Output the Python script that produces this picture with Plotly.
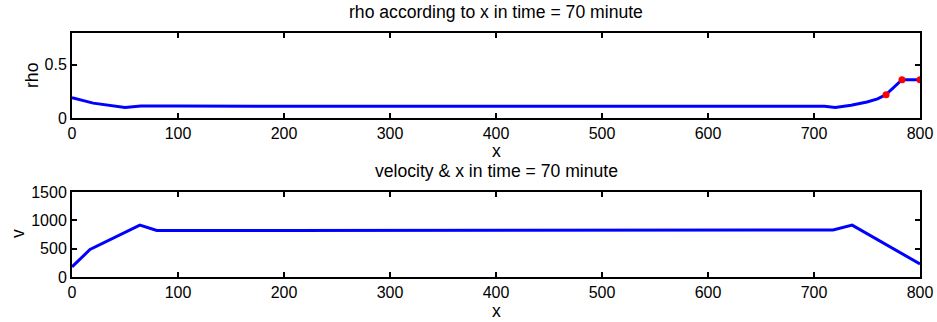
import plotly.graph_objects as go

# rho profile
rho_x = [0, 20, 50, 65, 100, 200, 300, 400, 500, 600, 700, 710, 720, 735, 750, 760, 768, 783, 800]
rho_y = [0.19, 0.14, 0.10, 0.112, 0.112, 0.11, 0.11, 0.11, 0.11, 0.11, 0.11, 0.11, 0.10, 0.12, 0.15, 0.18, 0.22, 0.36, 0.36]
# highlighted points
mark_x = [768, 783, 800]
mark_y = [0.22, 0.36, 0.36]
# velocity profile
v_x = [0, 17, 64, 80, 200, 300, 400, 500, 600, 700, 718, 736, 800]
v_y = [180, 485, 915, 820, 820, 820, 820, 820, 820, 820, 830, 915, 230]

x_ticks = [0, 100, 200, 300, 400, 500, 600, 700, 800]

FONT = "Liberation Sans, Arial, sans-serif"
FS = 16
FT = 17.6

W, H = 937, 322
ML, MR, MT, MB = 72, 17, 33, 45
PW, PH = W - ML - MR, H - MT - MB

def px(xp):
    return (xp - ML) / PW

def py(yp):
    return (H - MB - yp) / PH

fig = go.Figure()
fig.add_trace(go.Scatter(x=rho_x, y=rho_y, mode="lines",
                         line=dict(color="#0000ff", width=3), xaxis="x", yaxis="y", showlegend=False))
fig.add_trace(go.Scatter(x=mark_x, y=mark_y, mode="markers",
                         marker=dict(color="#ff0000", size=7), xaxis="x", yaxis="y", showlegend=False))
fig.add_trace(go.Scatter(x=v_x, y=v_y, mode="lines",
                         line=dict(color="#0000ff", width=3), xaxis="x2", yaxis="y2", showlegend=False))

axis_common = dict(showline=True, linecolor="black", linewidth=2, mirror="ticks",
                   ticks="inside", ticklen=5, tickwidth=2, tickcolor="black",
                   showgrid=False, zeroline=False, automargin=False,
                   tickfont=dict(family=FONT, size=FS, color="black"))

top_dom = [py(118), 1]
bot_dom = [0, py(192)]

def ann(text, x, y, size=FT, angle=0):
    return dict(text=text, x=x, y=y, xref="paper", yref="paper", showarrow=False,
                xanchor="center", yanchor="middle", textangle=angle,
                font=dict(family=FONT, size=size, color="black"))

fig.update_layout(
    width=W, height=H,
    margin=dict(l=ML, r=MR, t=MT, b=MB),
    paper_bgcolor="white", plot_bgcolor="white",
    font=dict(family=FONT, size=FS, color="black"),
    xaxis=dict(domain=[0, 1], range=[0, 800], tickvals=x_ticks, anchor="y", **axis_common),
    yaxis=dict(domain=top_dom, range=[0, 0.8], tickvals=[0, 0.5], ticktext=["0", "0.5"], anchor="x",
               **axis_common),
    xaxis2=dict(domain=[0, 1], range=[0, 800], tickvals=x_ticks, anchor="y2", **axis_common),
    yaxis2=dict(domain=bot_dom, range=[0, 1500], tickvals=[0, 500, 1000, 1500], anchor="x2",
                **axis_common),
    annotations=[
        ann("rho according to x in time = 70 minute", px(496), py(12.5)),
        ann("velocity & x in time = 70 minute", px(496), py(170.5)),
        ann("x", px(496), py(151)),
        ann("x", px(496), py(311)),
        ann("rho", px(32), py(75), angle=-90),
        ann("v", px(18), py(234), angle=-90),
    ],
)

# remove the default 8px page margin so the figure sits at the window's top-left corner
fig.write_html("out.html", config={"displayModeBar": False},
               post_script="document.body.style.margin='0';")
